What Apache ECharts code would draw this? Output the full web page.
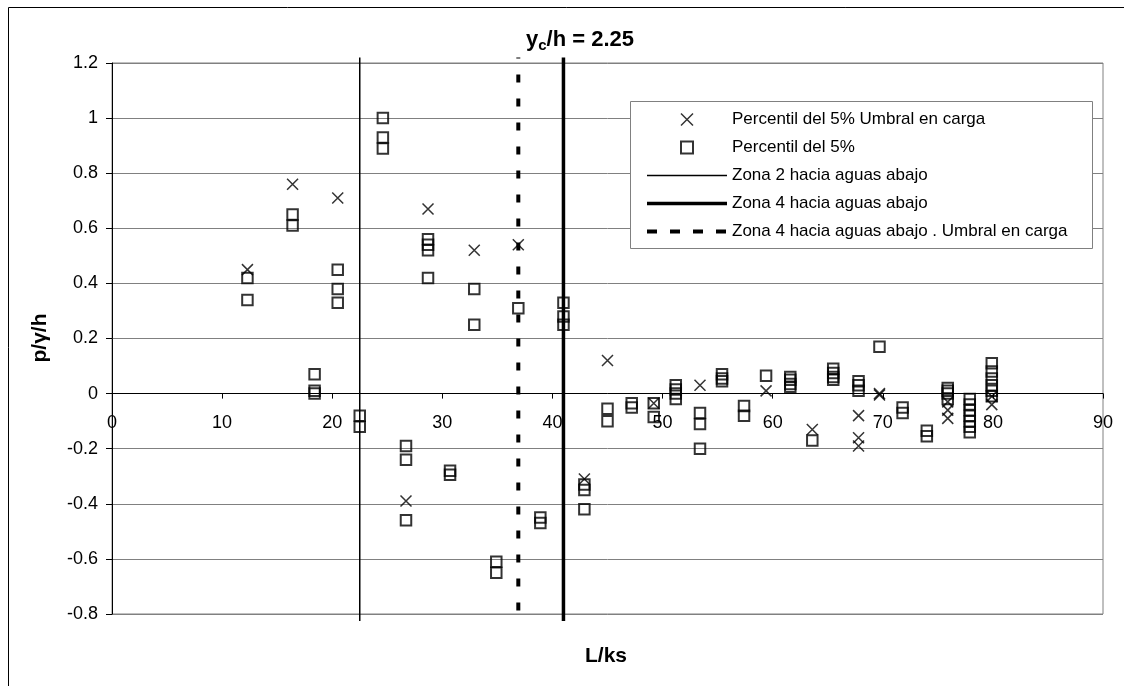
<!DOCTYPE html>
<html>
<head>
<meta charset="utf-8">
<title>p/γ/h vs L/ks</title>
<script src="https://cdn.jsdelivr.net/npm/echarts@6/dist/echarts.min.js"></script>
<style>
  html, body { margin: 0; padding: 0; background: #fff; }
  #chart { width: 1124px; height: 686px; }
</style>
</head>
<body>
<div id="chart"></div>
<script>
// Percentil del 5% con umbral en carga: [L/ks, p/γ/h]
const umbralPoints = [
  [12.3, 0.45], [16.4, 0.76], [20.5, 0.71], [28.7, 0.67], [32.9, 0.52],
  [36.9, 0.54], [45.0, 0.12], [49.2, -0.035], [26.7, -0.39], [42.9, -0.31],
  [53.4, 0.03], [59.4, 0.01], [63.6, -0.13], [67.8, -0.08], [67.8, -0.16],
  [67.8, -0.19], [69.7, 0.0], [69.7, -0.005], [75.9, -0.03], [75.9, -0.06],
  [75.9, -0.09], [79.9, -0.01], [79.9, -0.04]
];

// Percentil del 5%: [L/ks, p/γ/h]
const percentilPoints = [
  [12.3, 0.42], [12.3, 0.34],
  [16.4, 0.65], [16.4, 0.61],
  [18.4, 0.07], [18.4, 0.01], [18.4, 0.0],
  [20.5, 0.45], [20.5, 0.38], [20.5, 0.33],
  [22.5, -0.08], [22.5, -0.12],
  [24.6, 1.0], [24.6, 0.93], [24.6, 0.89],
  [26.7, -0.19], [26.7, -0.24], [26.7, -0.46],
  [28.7, 0.56], [28.7, 0.54], [28.7, 0.52], [28.7, 0.42],
  [30.7, -0.28], [30.7, -0.295],
  [32.9, 0.38], [32.9, 0.25],
  [34.9, -0.61], [34.9, -0.65],
  [36.9, 0.31],
  [38.9, -0.45], [38.9, -0.47],
  [41.0, 0.33], [41.0, 0.28], [41.0, 0.25],
  [42.9, -0.33], [42.9, -0.35], [42.9, -0.42],
  [45.0, -0.055], [45.0, -0.10],
  [47.2, -0.035], [47.2, -0.05],
  [49.2, -0.035], [49.2, -0.085],
  [51.2, 0.03], [51.2, 0.015], [51.2, 0.0], [51.2, -0.02],
  [53.4, -0.07], [53.4, -0.11], [53.4, -0.20],
  [55.4, 0.07], [55.4, 0.055], [55.4, 0.045],
  [57.4, -0.045], [57.4, -0.08],
  [59.4, 0.065],
  [61.6, 0.06], [61.6, 0.05], [61.6, 0.035], [61.6, 0.025],
  [63.6, -0.17],
  [65.5, 0.09], [65.5, 0.075], [65.5, 0.06], [65.5, 0.05],
  [67.8, 0.045], [67.8, 0.03], [67.8, 0.01],
  [69.7, 0.17],
  [71.8, -0.05], [71.8, -0.07],
  [74.0, -0.135], [74.0, -0.155],
  [75.9, 0.02], [75.9, 0.01], [75.9, 0.0], [75.9, -0.02],
  [77.9, -0.02], [77.9, -0.04], [77.9, -0.06], [77.9, -0.08], [77.9, -0.10], [77.9, -0.12], [77.9, -0.14],
  [79.9, 0.11], [79.9, 0.08], [79.9, 0.055], [79.9, 0.03], [79.9, 0.01], [79.9, -0.01]
];

// Zone boundaries (L/ks) and the vertical extent of the boundary lines
const zona2X = 22.5;
const zona4X = 41.0;
const zona4UmbralX = 36.9;
const boundarySpan = [1.22, -0.825];

// Axis ranges: [min, max, interval]
const xRange = [0, 90, 10];
const yRange = [-0.8, 1.2, 0.2];

const seriesNames = [
  'Percentil del 5% Umbral en carga',
  'Percentil del 5%',
  'Zona 2 hacia aguas abajo',
  'Zona 4 hacia aguas abajo',
  'Zona 4 hacia aguas abajo . Umbral en carga'
];

const FONT = 'Liberation Sans, Arial, sans-serif';
const crossPath = 'path://M0,0L10,10M10,0L0,10';
const squarePath = 'path://M0,0H10V10H0Z';

// Plot box in pixels
const GRID = { left: 112, right: 21, top: 63, bottom: 72 };
const plotHeight = 686 - GRID.top - GRID.bottom;
// The L/ks axis crosses the value axis at p/γ/h = 0
const xAxisOffset = -(0 - yRange[0]) / (yRange[1] - yRange[0]) * plotHeight;

const lineStyles = {
  zona2: { color: '#000', width: 1.5 },
  zona4: { color: '#000', width: 3.5 },
  umbral: { color: '#000', width: 4, type: [8, 16], dashOffset: 7 },
  umbralLegend: { color: '#000', width: 4, type: [10, 13], dashOffset: 0 }
};

// legend entries for the boundary lines show only the stroke
const hiddenSymbol = { color: 'rgba(0,0,0,0)', borderWidth: 0, opacity: 0 };

const verticalLine = (x) => boundarySpan.map(y => [x, y]);

const chart = echarts.init(document.getElementById('chart'), null, { renderer: 'canvas' });

chart.setOption({
  backgroundColor: '#fff',
  animation: false,
  textStyle: { fontFamily: FONT, color: '#000' },
  grid: {
    left: GRID.left, right: GRID.right, top: GRID.top, bottom: GRID.bottom,
    show: true, borderColor: '#808080', borderWidth: 1, backgroundColor: 'transparent'
  },
  xAxis: {
    type: 'value',
    min: xRange[0], max: xRange[1], interval: xRange[2],
    offset: xAxisOffset,
    axisLine: { onZero: false, lineStyle: { color: '#000', width: 1 } },
    axisTick: { show: true, length: 5, lineStyle: { color: '#000' } },
    axisLabel: { color: '#000', fontSize: 18, fontFamily: FONT, margin: 20 },
    splitLine: { show: false }
  },
  yAxis: {
    type: 'value',
    min: yRange[0], max: yRange[1], interval: yRange[2],
    axisLine: { show: true, onZero: false, lineStyle: { color: '#000', width: 1 } },
    axisTick: { show: true, length: 6, lineStyle: { color: '#000' } },
    axisLabel: {
      color: '#000', fontSize: 18, fontFamily: FONT, margin: 14,
      formatter: v => String(parseFloat(v.toFixed(1)))
    },
    splitLine: { show: true, lineStyle: { color: '#808080', width: 1 } }
  },
  legend: {
    orient: 'vertical',
    left: 645, top: 111,
    padding: 0,
    itemWidth: 80, itemHeight: 12, itemGap: 11,
    selectedMode: false,
    z: 6,
    textStyle: { fontSize: 17, fontFamily: FONT, color: '#000', lineHeight: 12 },
    data: [
      { name: seriesNames[0], icon: crossPath,
        itemStyle: { color: 'rgba(0,0,0,0)', borderColor: '#000', borderWidth: 1.5 } },
      { name: seriesNames[1], icon: squarePath,
        itemStyle: { color: 'rgba(0,0,0,0)', borderColor: '#000', borderWidth: 2 } },
      { name: seriesNames[2], itemStyle: hiddenSymbol, lineStyle: lineStyles.zona2 },
      { name: seriesNames[3], itemStyle: hiddenSymbol, lineStyle: lineStyles.zona4 },
      { name: seriesNames[4], itemStyle: hiddenSymbol, lineStyle: lineStyles.umbralLegend }
    ]
  },
  graphic: [
    // outer frame
    { type: 'rect', z: 10, silent: true,
      shape: { x: 8.5, y: 7.5, width: 1300, height: 900 },
      style: { fill: 'none', stroke: '#000', lineWidth: 1 } },
    // legend box
    { type: 'rect', z: 5, silent: true,
      shape: { x: 630.5, y: 101.5, width: 462, height: 147 },
      style: { fill: '#fff', stroke: '#808080', lineWidth: 1 } },
    // title
    { type: 'text', z: 10, silent: true,
      x: 580, y: 40,
      style: {
        text: '{a|y}{b|c}{a|/h = 2.25}',
        align: 'center', verticalAlign: 'middle',
        rich: {
          a: { fontSize: 22, fontWeight: 'bold', fontFamily: FONT, fill: '#000', lineHeight: 26 },
          b: { fontSize: 15, fontWeight: 'bold', fontFamily: FONT, fill: '#000', lineHeight: 14, verticalAlign: 'bottom' }
        }
      } },
    // y axis name
    { type: 'text', z: 10, silent: true,
      x: 40, y: 338, rotation: Math.PI / 2,
      style: { text: 'p/γ/h', fontSize: 21, fontWeight: 'bold', fontFamily: FONT,
        fill: '#000', align: 'center', verticalAlign: 'middle' } },
    // x axis name
    { type: 'text', z: 10, silent: true,
      x: 606, y: 656,
      style: { text: 'L/ks', fontSize: 21, fontWeight: 'bold', fontFamily: FONT,
        fill: '#000', align: 'center', verticalAlign: 'middle' } }
  ],
  series: [
    {
      name: seriesNames[0],
      type: 'scatter',
      data: umbralPoints,
      symbol: crossPath,
      symbolSize: 11,
      itemStyle: { color: 'rgba(0,0,0,0)', borderColor: '#000', borderWidth: 1.5 },
      z: 4
    },
    {
      name: seriesNames[1],
      type: 'scatter',
      data: percentilPoints,
      symbol: 'rect',
      symbolSize: 10.5,
      itemStyle: { color: 'rgba(0,0,0,0)', borderColor: '#000', borderWidth: 2 },
      z: 4
    },
    {
      name: seriesNames[2],
      type: 'line',
      data: verticalLine(zona2X),
      symbol: 'none',
      clip: false,
      itemStyle: { color: '#000' },
      lineStyle: lineStyles.zona2,
      z: 3
    },
    {
      name: seriesNames[3],
      type: 'line',
      data: verticalLine(zona4X),
      symbol: 'none',
      clip: false,
      itemStyle: { color: '#000' },
      lineStyle: lineStyles.zona4,
      z: 3
    },
    {
      name: seriesNames[4],
      type: 'line',
      data: verticalLine(zona4UmbralX),
      symbol: 'none',
      clip: false,
      itemStyle: { color: '#000' },
      lineStyle: lineStyles.umbral,
      z: 3
    }
  ]
});
</script>
</body>
</html>
